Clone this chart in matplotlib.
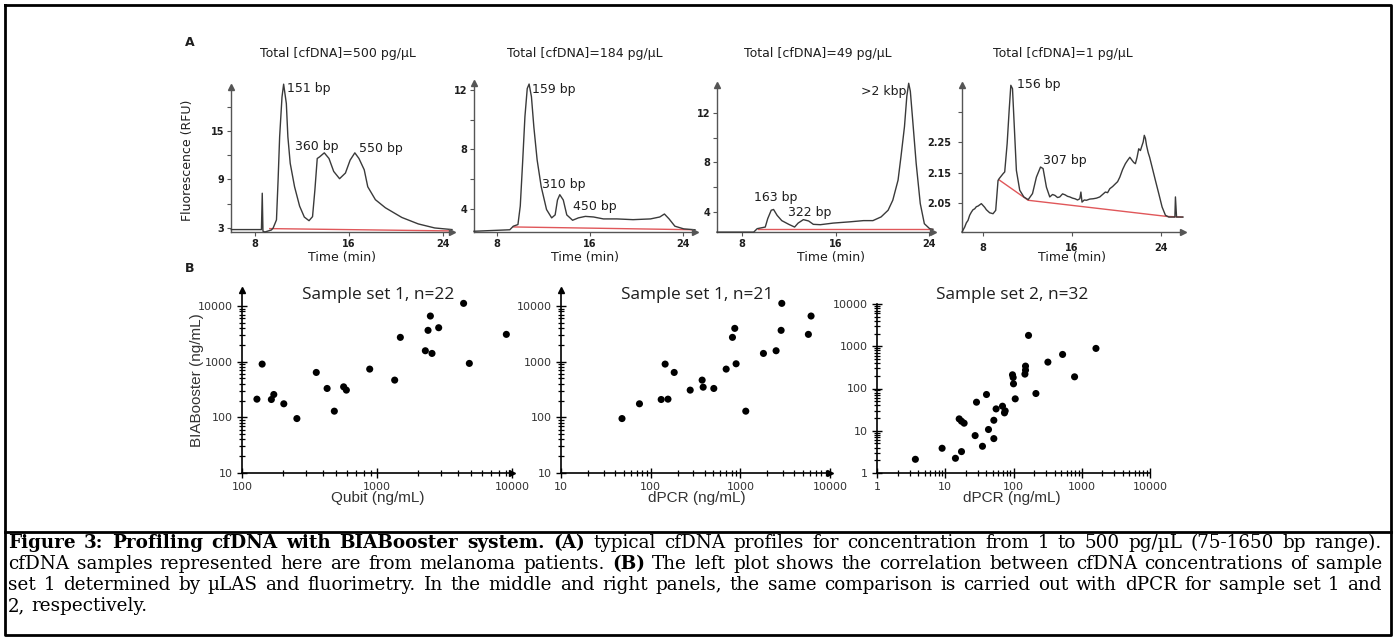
"""Figure 3: cfDNA electropherograms (A) and concentration correlations (B)."""

import matplotlib

matplotlib.use("Agg")
import matplotlib.pyplot as plt
from matplotlib.lines import Line2D
from matplotlib.ticker import FixedLocator, FuncFormatter, NullFormatter

W, H = 1394, 637
TEXT = "#1E1E1E"
TRACE = "#3A3A3A"
BASELINE = "#E0575A"
SPINE_A = "#555555"

# ---------------------------------------------------------------- panel A data
A_TITLES = [
    "Total [cfDNA]=500 pg/µL",
    "Total [cfDNA]=184 pg/µL",
    "Total [cfDNA]=49 pg/µL",
    "Total [cfDNA]=1 pg/µL",
]

A1_TIME = [5.98, 8.4, 8.55, 8.62, 8.68, 8.84, 9.4, 9.55, 9.83, 9.97, 10.1, 10.3,
           10.44, 10.67, 10.8, 11.0, 11.37, 11.8, 12.2, 12.6, 12.9, 13.1, 13.3,
           13.5, 13.9, 14.3, 14.7, 15.2, 15.7, 16.1, 16.5, 16.85, 17.3, 17.6,
           18.25, 19.1, 20.5, 21.9, 23.3, 24.77]
A1_RFU = [2.8, 2.8, 2.8, 7.3, 2.6, 2.5, 2.75, 3.0, 4.0, 9.0, 14.3, 19.2,
          20.8, 18.4, 14.3, 11.0, 8.1, 5.7, 4.35, 3.9, 4.4, 7.7, 11.6,
          11.8, 12.3, 11.6, 10.0, 9.1, 9.8, 11.4, 12.3, 11.6, 10.2, 8.1,
          6.5, 5.5, 4.3, 3.5, 3.0, 2.8]
A1_BASE_TIME = [9.26, 24.77]
A1_BASE_RFU = [2.92, 2.63]
A1_PEAKS = ["151 bp", "360 bp", "550 bp"]

A2_TIME = [6.02, 9.1, 9.4, 9.8, 10.0, 10.2, 10.4, 10.6, 10.76, 10.96, 11.17,
           11.45, 11.8, 12.26, 12.7, 13.0, 13.2, 13.4, 13.7, 14.0, 14.5, 15.0,
           15.6, 16.3, 17.15, 18.3, 19.7, 21.2, 22.0, 22.4, 22.8, 23.3, 24.06,
           25.03]
A2_RFU = [2.5, 2.6, 2.84, 2.95, 4.2, 7.1, 10.2, 12.1, 12.4, 11.55, 9.5,
          7.3, 5.5, 3.96, 3.4, 3.6, 4.6, 4.96, 4.6, 3.6, 3.24, 3.4,
          3.5, 3.46, 3.33, 3.33, 3.28, 3.33, 3.46, 3.66, 3.33, 2.84, 2.66,
          2.6]
A2_BASE_TIME = [9.4, 25.03]
A2_BASE_RFU = [2.79, 2.6]
A2_PEAKS = ["159 bp", "310 bp", "450 bp"]

A3_TIME = [5.86, 9.0, 9.3, 9.99, 10.2, 10.5, 10.7, 11.0, 11.4, 12.0, 12.5,
           12.8, 13.25, 13.7, 14.1, 14.7, 15.8, 17.2, 18.4, 19.2, 19.9, 20.5,
           20.9, 21.35, 21.6, 21.9, 22.1, 22.26, 22.4, 22.6, 22.9, 23.25, 23.6,
           24.05, 24.34]
A3_RFU = [2.37, 2.37, 2.65, 2.78, 3.46, 4.14, 4.2, 3.73, 3.3, 3.0, 2.78,
          3.1, 3.38, 3.27, 3.0, 2.97, 3.1, 3.2, 3.3, 3.3, 3.6, 4.14,
          4.95, 6.57, 8.47, 10.9, 13.35, 14.4, 13.76, 11.45, 7.93, 4.68, 3.05,
          2.65, 2.6]
A3_BASE_TIME = [9.4, 24.34]
A3_BASE_RFU = [2.6, 2.6]
A3_PEAKS = [">2 kbp", "163 bp", "322 bp"]

A4_TIME = [6.11, 6.35, 6.5, 6.65, 6.8, 6.95, 7.1, 7.25, 7.4, 7.55, 7.7, 7.85,
           8.0, 8.15, 8.3, 8.6, 8.9, 9.14, 9.35, 9.45, 9.56, 9.8, 9.95,
           10.17, 10.35, 10.5, 10.65, 10.8, 11.0, 11.3, 11.67, 12.06, 12.45,
           12.8, 13.17, 13.4, 13.7, 14.0, 14.25, 14.47, 14.7, 14.9, 15.15,
           15.37, 15.6, 15.8, 16.05, 16.27, 16.5, 16.7, 16.8, 16.9, 17.1,
           17.3, 17.6, 17.9, 18.2, 18.5, 18.75, 19.0, 19.2, 19.4, 19.65,
           19.9, 20.1, 20.3, 20.55, 20.8, 21.0, 21.2, 21.4, 21.55, 21.7,
           21.85, 22.0, 22.15, 22.3, 22.4, 22.5, 22.6, 22.7, 22.85, 22.98,
           23.2, 23.5, 23.8, 24.1, 24.4, 24.7, 25.15, 25.25, 25.3, 25.4,
           25.98]
A4_VAL = [1.955, 1.971, 1.985, 1.993, 2.01, 2.02, 2.028, 2.031, 2.038, 2.04,
          2.044, 2.048, 2.042, 2.036, 2.028, 2.018, 2.015, 2.026, 2.124, 2.13,
          2.135, 2.146, 2.152, 2.245, 2.354, 2.436, 2.425, 2.31, 2.157, 2.092,
          2.07, 2.061, 2.081, 2.135, 2.168, 2.163, 2.102, 2.07, 2.078, 2.075,
          2.068, 2.07, 2.08, 2.077, 2.072, 2.07, 2.066, 2.064, 2.06, 2.064,
          2.086, 2.053, 2.06, 2.059, 2.063, 2.064, 2.066, 2.07, 2.078, 2.086,
          2.084, 2.097, 2.104, 2.113, 2.12, 2.135, 2.16, 2.179, 2.19, 2.2,
          2.19, 2.183, 2.179, 2.2, 2.228, 2.222, 2.239, 2.25, 2.272, 2.262,
          2.239, 2.215, 2.2, 2.168, 2.124, 2.081, 2.037, 2.01, 2.004, 2.004,
          2.004, 2.07, 2.004, 2.004]
A4_BASE_TIME = [9.44, 12.06, 24.54, 25.98]
A4_BASE_VAL = [2.126, 2.059, 2.006, 2.004]
A4_PEAKS = ["156 bp", "307 bp"]

# ---------------------------------------------------------------- panel B data
B_TITLES = ["Sample set 1, n=22", "Sample set 1, n=21", "Sample set 2, n=32"]
B_XLABELS = ["Qubit (ng/mL)", "dPCR (ng/mL)", "dPCR (ng/mL)"]
B_YLABEL = "BIABooster (ng/mL)"

B1_QUBIT = [129, 141, 165, 172, 204, 255, 355, 427, 483, 566, 593, 883, 1352,
            1489, 2281, 2388, 2485, 2555, 2864, 4380, 4830, 9080]
B1_BIAB = [212, 904, 209, 257, 175, 95, 640, 330, 129, 353, 308, 735, 466,
           2730, 1570, 3650, 6600, 1405, 4070, 11140, 930, 3090]

B2_DPCR = [47.9, 75, 131, 156, 145, 183, 276, 375, 385, 506, 695, 817, 867,
           897, 1150, 1810, 2505, 2850, 2900, 5740, 6150]
B2_BIAB = [95, 175, 209, 212, 904, 640, 308, 466, 348, 330, 735, 2730, 3960,
           916, 129, 1405, 1570, 3650, 11140, 3090, 6600]

B3_DPCR = [3.65, 8.99, 14.1, 17.3, 16.0, 17.3, 18.9, 27.4, 28.7, 35.1, 40.2,
           43.0, 51.5, 51.5, 55.6, 69.0, 75.5, 73.8, 96.7, 98.9, 100, 106,
           147, 150, 150, 166, 213, 319, 524, 785, 1615]
B3_BIAB = [2.11, 3.85, 2.23, 3.21, 19.1, 16.8, 15.1, 7.68, 47.4, 4.29, 72.1,
           10.7, 17.7, 6.52, 32.9, 38.1, 29.5, 26.5, 211, 182, 129, 56.9,
           219, 272, 339, 1806, 76.1, 421, 640, 189, 889]

CAPTION_LINES = [
    [("Figure 3: Profiling cfDNA with BIABooster system. (A)", True),
     ("typical cfDNA profiles for concentration from 1 to 500 pg/µL (75-1650 bp range).", False)],
    [("cfDNA samples represented here are from melanoma patients.", False),
     ("(B)", True),
     ("The left plot shows the correlation between cfDNA concentrations of sample", False)],
    [("set 1 determined by µLAS and fluorimetry. In the middle and right panels, "
      "the same comparison is carried out with dPCR for sample set 1 and", False)],
    [("2, respectively.", False)],
]


def add_px_axes(fig, left, top, right, bottom):
    """Add axes from pixel edges measured on the 1394x637 canvas."""
    return fig.add_axes([left / W, 1 - bottom / H, (right - left) / W, (bottom - top) / H])


def fig_text(fig, x, y, s, **kw):
    return fig.text(x / W, 1 - y / H, s, **kw)


def axis_arrows(ax, color, size, top=True, right=True):
    if top:
        ax.plot([0], [1], marker="^", markersize=size, color=color,
                transform=ax.transAxes, clip_on=False, zorder=5)
    if right:
        ax.plot([1], [0], marker=">", markersize=size, color=color,
                transform=ax.transAxes, clip_on=False, zorder=5)


def log_ticks(lo, hi):
    """Major decades and 2..9 minors between lo and hi (inclusive)."""
    major, minor = [], []
    k = 0
    while 10 ** k < lo:
        k += 1
    while 10 ** k <= hi * 1.0001:
        major.append(10 ** k)
        minor.extend(m * 10 ** k for m in range(2, 10) if m * 10 ** k <= hi)
        k += 1
    return major, minor


fig = plt.figure(figsize=(W / 100, H / 100), dpi=100)

# ---------------------------------------------------------------- panel A
a_panels = [
    dict(time=A1_TIME, val=A1_RFU, bt=A1_BASE_TIME, bv=A1_BASE_RFU,
         box=(231, 87, 452, 232), xlim=(5.96, 24.77), ylim=(2.5, 20.45),
         yticks=[3, 6, 9, 12, 15, 18], ylabels=["3", "", "9", "", "15", ""],
         peaks=A1_PEAKS, ppos=[(10.72, 20.3, "left"), (11.37, 13.1, "left"),
                                (16.85, 12.8, "left")],
         title_x=338, xlabel_x=342),
    dict(time=A2_TIME, val=A2_RFU, bt=A2_BASE_TIME, bv=A2_BASE_RFU,
         box=(474, 83, 695, 232), xlim=(6.02, 25.03), ylim=(2.45, 12.47),
         yticks=[4, 6, 8, 10, 12], ylabels=["4", "", "8", "", "12"],
         peaks=A2_PEAKS, ppos=[(11.05, 12.0, "left"), (11.9, 5.63, "left"),
                                (14.56, 4.18, "left")],
         title_x=585, xlabel_x=585),
    dict(time=A3_TIME, val=A3_RFU, bt=A3_BASE_TIME, bv=A3_BASE_RFU,
         box=(717, 85, 933, 232), xlim=(5.86, 24.34), ylim=(2.38, 14.26),
         yticks=[4, 6, 8, 10, 12], ylabels=["4", "", "8", "", "12"],
         peaks=A3_PEAKS, ppos=[(22.06, 13.7, "right"), (9.05, 5.2, "left"),
                                (11.9, 3.95, "left")],
         title_x=818, xlabel_x=831),
    dict(time=A4_TIME, val=A4_VAL, bt=A4_BASE_TIME, bv=A4_BASE_VAL,
         box=(962, 85, 1183, 232), xlim=(6.11, 25.98), ylim=(1.955, 2.437),
         yticks=[2.05, 2.15, 2.25, 2.35], ylabels=["2.05", "2.15", "2.25", ""],
         peaks=A4_PEAKS, ppos=[(11.07, 2.438, "left"), (13.4, 2.188, "left")],
         title_x=1063, xlabel_x=1072),
]

for i, p in enumerate(a_panels):
    ax = add_px_axes(fig, *p["box"])
    ax.plot(p["time"], p["val"], color=TRACE, lw=1.0, clip_on=False, zorder=3)
    ax.plot(p["bt"], p["bv"], color=BASELINE, lw=1.0, zorder=2)
    ax.set_xlim(*p["xlim"])
    ax.set_ylim(*p["ylim"])
    ax.set_facecolor("none")
    for side in ("top", "right"):
        ax.spines[side].set_visible(False)
    for side in ("left", "bottom"):
        ax.spines[side].set_color(SPINE_A)
        ax.spines[side].set_linewidth(1.0)
    ax.xaxis.set_major_locator(FixedLocator([8, 16, 24]))
    ax.yaxis.set_major_locator(FixedLocator(p["yticks"]))
    ax.set_yticklabels(p["ylabels"])
    ax.tick_params(direction="out", length=3, width=0.8, color=SPINE_A,
                   labelsize=7, labelcolor=TEXT, pad=2 if i < 3 else 5)
    for lab in ax.get_xticklabels() + ax.get_yticklabels():
        lab.set_fontweight("bold")
    axis_arrows(ax, SPINE_A, 4)
    for label, (tx, ty, ha) in zip(p["peaks"], p["ppos"]):
        ax.text(tx, ty, label, ha=ha, va="center", fontsize=9, color=TEXT)
    fig_text(fig, p["title_x"], 53, A_TITLES[i], ha="center", va="center",
             fontsize=9, color=TEXT)
    fig_text(fig, p["xlabel_x"], 257, "Time (min)", ha="center", va="center",
             fontsize=9, color=TEXT)

fig_text(fig, 188, 160, "Fluorescence (RFU)", rotation=90, ha="center",
         va="center", fontsize=9, color=TEXT)
fig_text(fig, 190, 42, "A", ha="center", va="center", fontsize=9,
         fontweight="bold", color=TEXT)
fig_text(fig, 190, 268, "B", ha="center", va="center", fontsize=9,
         fontweight="bold", color=TEXT)

# ---------------------------------------------------------------- panel B
b_panels = [
    dict(x=B1_QUBIT, y=B1_BIAB, box=(242, 290, 512, 473),
         xlim=(100, 10000), ylim=(10, 10 ** 4.287), arrows=True, cx=378),
    dict(x=B2_DPCR, y=B2_BIAB, box=(561, 290, 830, 473),
         xlim=(10, 10000), ylim=(10, 10 ** 4.287), arrows=True, cx=697),
    dict(x=B3_DPCR, y=B3_BIAB, box=(877, 304, 1150, 473),
         xlim=(1, 10000), ylim=(1, 10000), arrows=False, cx=1012),
]

plain = FuncFormatter(lambda v, _: f"{v:.0f}")
for i, p in enumerate(b_panels):
    ax = add_px_axes(fig, *p["box"])
    ax.scatter(p["x"], p["y"], s=26, color="black", edgecolors="none",
               clip_on=False, zorder=3)
    ax.set_xscale("log")
    ax.set_yscale("log")
    ax.set_xlim(*p["xlim"])
    ax.set_ylim(*p["ylim"])
    ax.set_facecolor("none")
    for side in ("top", "right"):
        ax.spines[side].set_visible(False)
    for side in ("left", "bottom"):
        ax.spines[side].set_color("black")
        ax.spines[side].set_linewidth(1.2)
    for axis, (lo, hi) in ((ax.xaxis, p["xlim"]), (ax.yaxis, p["ylim"])):
        major, minor = log_ticks(lo, hi)
        axis.set_major_locator(FixedLocator(major))
        axis.set_minor_locator(FixedLocator(minor))
        axis.set_major_formatter(plain)
        axis.set_minor_formatter(NullFormatter())
    ax.tick_params(which="major", direction="inout", length=7, width=1.0,
                   color="black", labelsize=8, labelcolor="#333333", pad=3)
    ax.tick_params(which="minor", direction="inout", length=5, width=0.9,
                   color="black")
    if p["arrows"]:
        axis_arrows(ax, "black", 5)
    fig_text(fig, p["cx"], 295, B_TITLES[i], ha="center", va="center",
             fontsize=12.4, family="Open Sans", color=TEXT)
    fig_text(fig, p["cx"], 498, B_XLABELS[i], ha="center", va="center",
             fontsize=11, family="Liberation Sans", color="#333333")

fig_text(fig, 197, 380, B_YLABEL, rotation=90, ha="center", va="center",
         fontsize=11, family="Liberation Sans", color="#333333")

# ---------------------------------------------------------------- frame + caption
frame = Line2D([5 / W, 1391 / W, 1391 / W, 5 / W, 5 / W],
               [1 - 5 / H, 1 - 5 / H, 1 - 635 / H, 1 - 635 / H, 1 - 5 / H],
               transform=fig.transFigure, color="black", lw=2)
fig.add_artist(frame)
fig.add_artist(Line2D([5 / W, 1391 / W], [1 - 532 / H, 1 - 532 / H],
                      transform=fig.transFigure, color="black", lw=2))

renderer = fig.canvas.get_renderer()
cap_left, cap_right = 8, 1382
cap_size = 13.2
baselines = [548, 569, 590, 611]
for row, segments in enumerate(CAPTION_LINES):
    words = [(w, bold) for text, bold in segments for w in text.split()]
    items = [fig_text(fig, 0, baselines[row], w, ha="left", va="baseline",
                      fontsize=cap_size, family="DejaVu Serif",
                      fontweight="bold" if b else "normal", color="black")
             for w, b in words]
    widths = [t.get_window_extent(renderer).width for t in items]
    if row < len(CAPTION_LINES) - 1:
        gap = (cap_right - cap_left - sum(widths)) / (len(items) - 1)
    else:
        gap = cap_size * 0.32 * 100 / 72
    x = cap_left
    for t, w in zip(items, widths):
        t.set_x(x / W)
        x += w + gap

fig.savefig("out.png", dpi=100)
